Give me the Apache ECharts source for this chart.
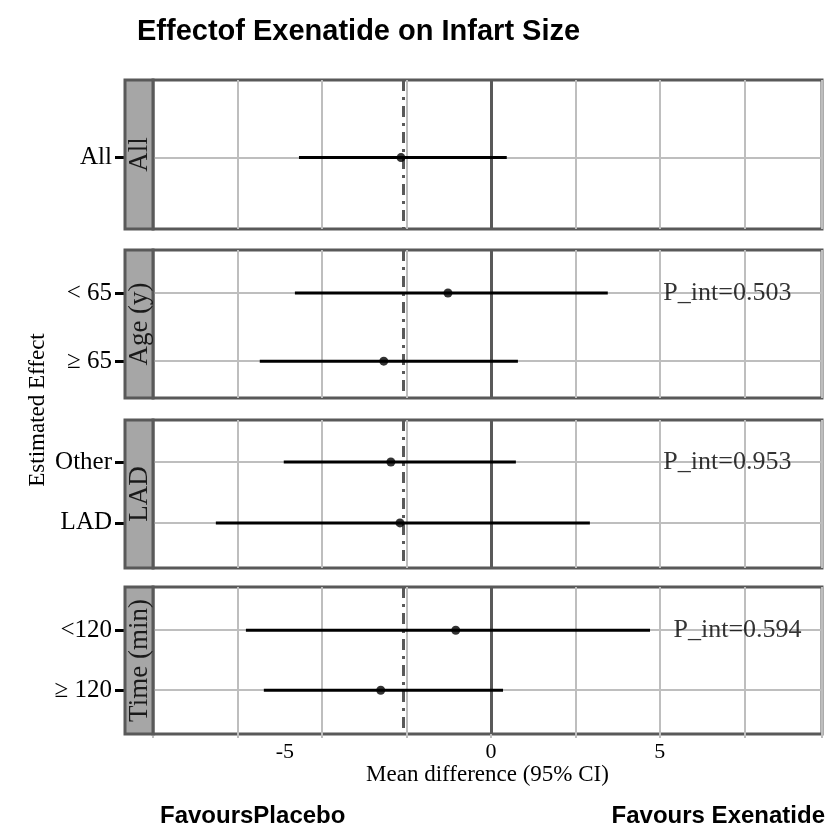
<!DOCTYPE html>
<html>
<head>
<meta charset="utf-8">
<script src="https://cdn.jsdelivr.net/npm/echarts@6/dist/echarts.min.js"></script>
<style>html,body{margin:0;padding:0;background:#fff}#c{width:838px;height:832px}</style>
</head>
<body>
<div id="c"></div>
<script>
// ---- data ----
const panelNames = ['All', 'Age (y)', 'LAD', 'Time (min)'];
const rowLabels = [['All'], ['< 65', '\u2265 65'], ['Other', 'LAD'], ['<120', '\u2265 120']];
const estimates = [[-2.66], [-1.27, -3.17], [-2.96, -2.69], [-1.04, -3.26]];
const lowerCI = [[-5.68], [-5.80, -6.84], [-6.13, -8.14], [-7.25, -6.72]];
const upperCI = [[0.47], [3.46, 0.80], [0.74, 2.93], [4.71, 0.36]];
const pInteraction = [null, '0.503', '0.953', '0.594'];
const overallEffect = -2.6;
const xTickLabels = [-5, 0, 5];

// ---- layout ----
const gridTops = [80, 250, 420, 587];
const gridHeights = [149, 148, 148, 147];
const yRanges = [[0.5, 1.46], [0.37, 2.54], [0.31, 2.74], [0.28, 2.73]];
const pTextX = [0, 7.0, 7.0, 7.3];
const SERIF = '"Liberation Serif", "Times New Roman", serif';
const SANS = '"Liberation Sans", Arial, sans-serif';

const chart = echarts.init(document.getElementById('c'), null, {renderer: 'canvas'});

const grids = [], xAxes = [], yAxes = [], series = [], graphics = [];

panelNames.forEach((name, i) => {
  const last = i === panelNames.length - 1;
  grids.push({left: 153, right: 16, top: gridTops[i], height: gridHeights[i],
    show: true, borderColor: '#595959', borderWidth: 3, backgroundColor: '#fff'});
  xAxes.push({
    gridIndex: i, type: 'value', min: -10, max: 9.8, interval: 2.5,
    axisLine: {show: false, onZero: false},
    axisTick: {show: last, length: 4, lineStyle: {color: '#bebebe', width: 2}},
    splitLine: {show: true, lineStyle: {color: '#bebebe', width: 2}},
    axisLabel: {
      show: last, margin: 7, color: '#000', fontFamily: SERIF, fontSize: 22,
      showMinLabel: true, showMaxLabel: true,
      formatter: v => {
        if (!xTickLabels.includes(v)) return '';
        if (v < 0) return '{s|' + v + '}';
        return String(v);
      },
      rich: {s: {fontFamily: SERIF, fontSize: 22, color: '#000', padding: [0, 74, 0, 0]}}
    },
    name: last ? 'Mean difference (95% CI)' : '',
    nameLocation: 'middle', nameGap: 29,
    nameTextStyle: {fontFamily: SERIF, fontSize: 23, color: '#000'}
  });
  const vals = rowLabels[i].map((_, k) => k + 1);
  yAxes.push({
    gridIndex: i, type: 'value', inverse: true, min: yRanges[i][0], max: yRanges[i][1],
    offset: 28,
    axisLine: {show: false, onZero: false},
    splitLine: {show: false},
    axisTick: {show: true, inside: false, customValues: vals, length: 10,
      lineStyle: {color: '#000', width: 3}},
    axisLabel: {customValues: vals, margin: 13, color: '#000', fontFamily: SERIF, fontSize: 25,
      formatter: v => rowLabels[i][Math.round(v) - 1] || ''}
  });

  // helper lines (gridlines, zero line, overall effect)
  series.push({
    type: 'scatter', xAxisIndex: i, yAxisIndex: i, data: [], z: 1, silent: true,
    markLine: {
      z: 1, silent: true, symbol: 'none', animation: false, label: {show: false},
      data: [
        ...vals.map(v => ({yAxis: v, lineStyle: {color: '#bebebe', width: 2, type: 'solid'}})),
        {xAxis: 0, lineStyle: {color: '#595959', width: 3, type: 'solid'}},
        {xAxis: overallEffect, lineStyle: {color: '#595959', width: 3, type: [11, 6, 3, 6]}}
      ]
    }
  });

  // CI bars
  series.push({
    type: 'custom', xAxisIndex: i, yAxisIndex: i, z: 3, silent: true,
    data: vals.map((v, k) => [lowerCI[i][k], upperCI[i][k], v]),
    encode: {x: [0, 1], y: 2},
    renderItem: (params, api) => {
      const p1 = api.coord([api.value(0), api.value(2)]);
      const p2 = api.coord([api.value(1), api.value(2)]);
      return {type: 'line', shape: {x1: p1[0], y1: p1[1], x2: p2[0], y2: p2[1]},
        style: {stroke: '#000', lineWidth: 3}};
    }
  });

  // point estimates
  series.push({
    type: 'scatter', xAxisIndex: i, yAxisIndex: i, z: 4, silent: true,
    symbol: 'circle', symbolSize: 9, itemStyle: {color: '#000'},
    data: vals.map((v, k) => [estimates[i][k], v])
  });

  if (pInteraction[i]) {
    series.push({
      type: 'scatter', xAxisIndex: i, yAxisIndex: i, z: 5, silent: true,
      symbolSize: 1, itemStyle: {color: 'rgba(0,0,0,0)'},
      data: [[pTextX[i], 1]],
      label: {show: true, position: 'inside', formatter: 'P_int=' + pInteraction[i],
        color: '#000', fontFamily: SERIF, fontSize: 26}
    });
  }

  // facet strip
  graphics.push({
    type: 'rect', z: 10,
    shape: {x: 125, y: gridTops[i], width: 28, height: gridHeights[i]},
    style: {fill: '#a6a6a6', stroke: '#595959', lineWidth: 3}
  });
  graphics.push({
    type: 'text', z: 11, x: 140, y: gridTops[i] + gridHeights[i] / 2, rotation: Math.PI / 2,
    style: {text: name, align: 'center', verticalAlign: 'middle', fill: '#1a1a1a',
      font: '27px ' + SERIF}
  });
});

graphics.push({
  type: 'text', x: 38, y: 410, rotation: Math.PI / 2,
  style: {text: 'Estimated Effect', align: 'center', verticalAlign: 'middle', fill: '#000',
    font: '23px ' + SERIF}
});
graphics.push({
  type: 'text', x: 160, y: 816,
  style: {text: 'FavoursPlacebo', align: 'left', verticalAlign: 'middle', fill: '#000',
    font: 'bold 24px ' + SANS}
});
graphics.push({
  type: 'text', x: 825, y: 816,
  style: {text: 'Favours Exenatide', align: 'right', verticalAlign: 'middle', fill: '#000',
    font: 'bold 24px ' + SANS}
});

chart.setOption({
  animation: false,
  backgroundColor: '#fff',
  title: {text: 'Effectof Exenatide on Infart Size', left: 132, top: 12,
    textStyle: {fontFamily: SANS, fontWeight: 'bold', fontSize: 29, color: '#000'}},
  grid: grids, xAxis: xAxes, yAxis: yAxes, series: series, graphic: graphics
});
</script>
</body>
</html>
